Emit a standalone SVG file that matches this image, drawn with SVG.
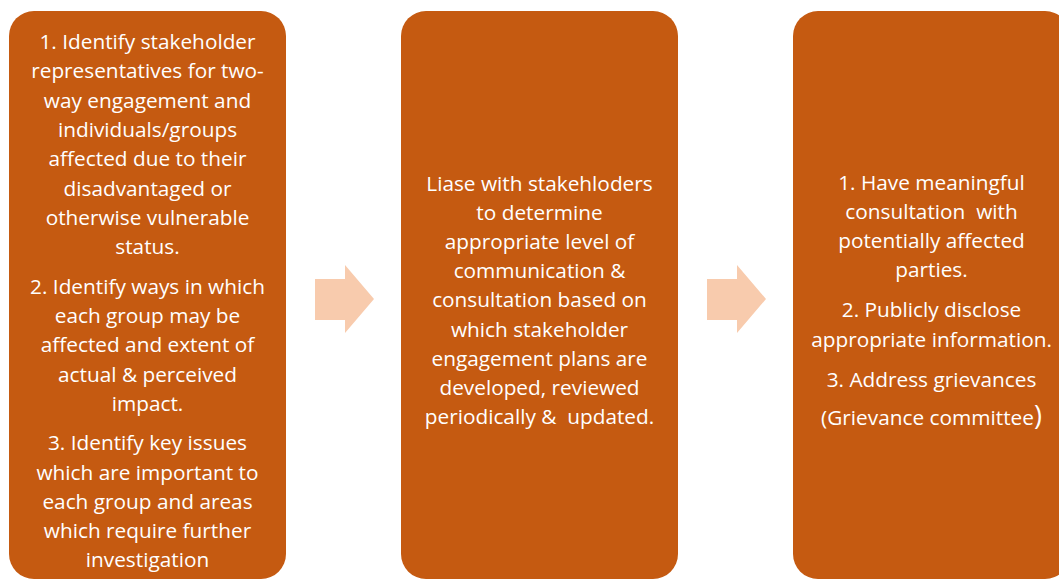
<svg xmlns="http://www.w3.org/2000/svg" width="1059" height="580" viewBox="0 0 1059 580">
<style>
.box{fill:#C55A11;}
.arr{fill:#F8CBAD;}
text{font-family:"Open Sans","Noto Sans",sans-serif;font-size:20.8px;fill:#FFFFFF;text-anchor:middle;white-space:pre;}
</style>
<rect width="1059" height="580" fill="#FFFFFF"/>
<g id="connectors">
<polygon class="arr" points="315,279 345,279 345,265 374,299 345,333 345,320 315,320"/>
<polygon class="arr" points="707,279 737,279 737,265 766,299 737,333 737,320 707,320"/>
</g>
<g id="node1">
<rect class="box" x="9" y="11" width="277" height="568" rx="25" ry="25"/>
<text x="147.5" y="49">1. Identify stakeholder</text>
<text x="147.5" y="78">representatives for two-</text>
<text x="147.5" y="108">way engagement and</text>
<text x="147.5" y="137">individuals/groups</text>
<text x="147.5" y="166">affected due to their</text>
<text x="147.5" y="196">disadvantaged or</text>
<text x="147.5" y="225">otherwise vulnerable</text>
<text x="147.5" y="254">status.</text>
<text x="147.5" y="294">2. Identify ways in which</text>
<text x="147.5" y="323">each group may be</text>
<text x="147.5" y="352">affected and extent of</text>
<text x="147.5" y="382">actual &amp; perceived</text>
<text x="147.5" y="411">impact.</text>
<text x="147.5" y="450">3. Identify key issues</text>
<text x="147.5" y="480">which are important to</text>
<text x="147.5" y="509">each group and areas</text>
<text x="147.5" y="538">which require further</text>
<text x="147.5" y="567">investigation</text>
</g>
<g id="node2">
<rect class="box" x="401" y="11" width="277" height="568" rx="25" ry="25"/>
<text x="539.5" y="191">Liase with stakehloders</text>
<text x="539.5" y="220">to determine</text>
<text x="539.5" y="249">appropriate level of</text>
<text x="539.5" y="278">communication &amp;</text>
<text x="539.5" y="307">consultation based on</text>
<text x="539.5" y="337">which stakeholder</text>
<text x="539.5" y="366">engagement plans are</text>
<text x="539.5" y="395">developed, reviewed</text>
<text x="539.5" y="424">periodically &amp;  updated.</text>
</g>
<g id="node3">
<rect class="box" x="793" y="11" width="277" height="568" rx="25" ry="25"/>
<text x="931.5" y="190">1. Have meaningful</text>
<text x="931.5" y="219">consultation  with</text>
<text x="931.5" y="248">potentially affected</text>
<text x="931.5" y="277">parties.</text>
<text x="931.5" y="317">2. Publicly disclose</text>
<text x="931.5" y="347">appropriate information.</text>
<text x="931.5" y="387">3. Address grievances</text>
<text x="931.5" y="425">(Grievance committee<tspan font-size="27">)</tspan></text>
</g>
</svg>
